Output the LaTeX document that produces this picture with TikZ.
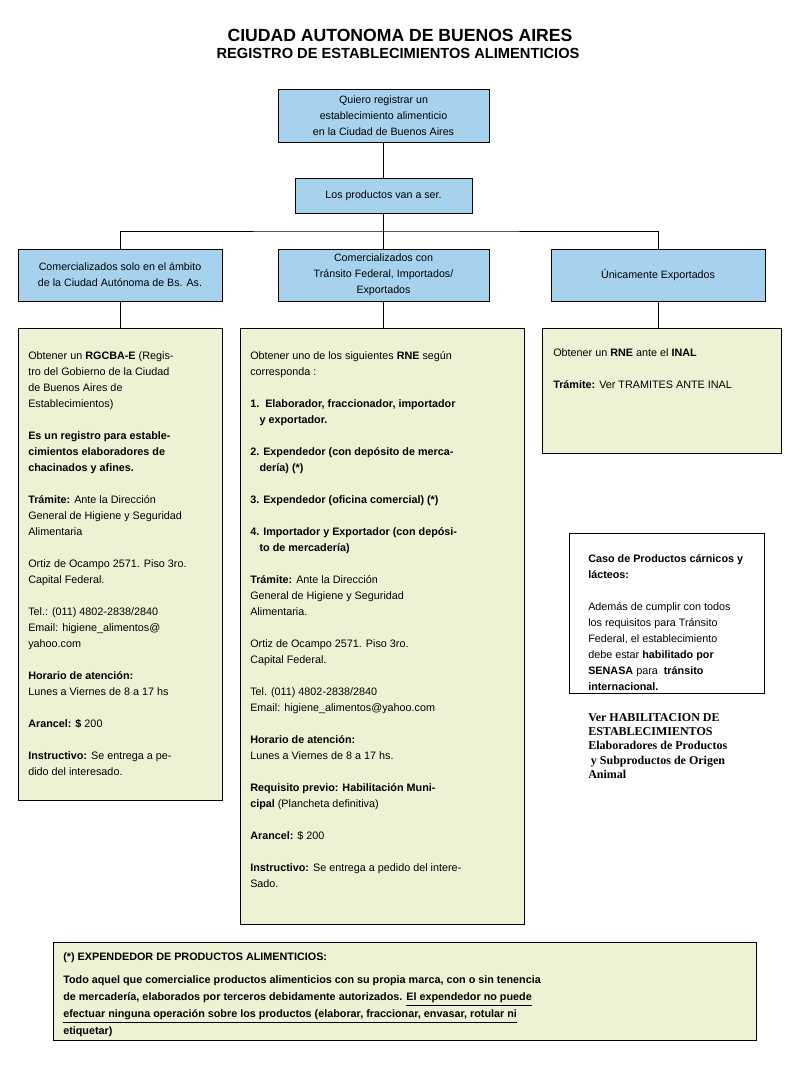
\documentclass[tikz,border=0pt]{standalone}
\usepackage{fontspec}
\setmainfont{Liberation Sans}
\newfontfamily\timesfont{Liberation Serif}
\usetikzlibrary{positioning}

\definecolor{boxblue}{HTML}{A6D2EE}
\definecolor{boxcream}{HTML}{EEF2D4}

\tikzset{
  bluebox/.style={draw, fill=boxblue, align=center, inner sep=0pt,
    font=\fontsize{8}{12}\selectfont},
  creambox/.style={draw, fill=boxcream, inner sep=0pt},
  infotext/.style={anchor=north west, align=left, inner sep=0pt,
    font=\fontsize{8.1}{12}\selectfont},
}

\begin{document}
\begin{tikzpicture}[x=0.75pt,y=-0.75pt]
\useasboundingbox (0,0) rectangle (800,1066);
\fill[white] (0,0) rectangle (800,1066);

% titulo
\node[font=\bfseries\fontsize{13.2}{15}\selectfont] (titulo) at (400,35) {CIUDAD AUTONOMA DE BUENOS AIRES};
\node[font=\bfseries\fontsize{11}{13}\selectfont] (subtitulo) at (398,53) {REGISTRO DE ESTABLECIMIENTOS ALIMENTICIOS};

% cajas azules
\node[bluebox, minimum width=158.25pt, minimum height=39.75pt] (quiero) at (383.5,115.5)
  {Quiero registrar un\\establecimiento alimenticio\\en la Ciudad de Buenos Aires};
\node[bluebox, minimum width=132.75pt, minimum height=26.25pt] (productos) at (383.5,195.5)
  {Los productos van a ser.};

\node[bluebox, minimum width=153pt, minimum height=39pt] (local) at (120,275)
  {Comercializados solo en el ámbito\\de la Ciudad Autónoma de Bs. As.};
\node[bluebox, minimum width=158.25pt, minimum height=39pt] (federal) at (383.5,275)
  {Comercializados con\\Tránsito Federal, Importados/\\Exportados};
\node[bluebox, minimum width=160.5pt, minimum height=39pt] (export) at (658,275)
  {Únicamente Exportados};

\coordinate (rama) at (383.5,231);

% cajas de detalle
\node[creambox, minimum width=153pt, minimum height=354pt] (localinfo) at (120,564) {};
\node[creambox, minimum width=213pt, minimum height=447pt] (federalinfo) at (382,626) {};
\node[creambox, minimum width=179.25pt, minimum height=93.75pt] (exportinfo) at (661.5,390.5) {};
\node[draw, fill=white, minimum width=146.25pt, minimum height=120pt] (caso) at (666.5,613) {};
\node[creambox, minimum width=527.25pt, minimum height=73.5pt] (nota) at (404.5,991) {};

% conectores
\draw (quiero) -- (productos);
\draw (productos) -- (federal);
\draw (local) |- (rama) -| (export);
\draw (local) -- (localinfo);
\draw (federal.south) -- (federal.south |- federalinfo.north);
\draw (export.south) -- (export.south |- exportinfo.north);

% textos
\node[infotext] (localtxt) at (28,351) {Obtener un \textbf{RGCBA-E} (Regis-\\
tro del Gobierno de la Ciudad\\
de Buenos Aires de\\
Establecimientos)\\[12pt]
\textbf{Es un registro para estable-}\\
\textbf{cimientos elaboradores de}\\
\textbf{chacinados y afines.}\\[12pt]
\textbf{Trámite:} Ante la Dirección\\
General de Higiene y Seguridad\\
Alimentaria\\[12pt]
Ortiz de Ocampo 2571. Piso 3ro.\\
Capital Federal.\\[12pt]
Tel.: (011) 4802-2838/2840\\
Email: higiene\_alimentos@\\
yahoo.com\\[12pt]
\textbf{Horario de atención:}\\
Lunes a Viernes de 8 a 17 hs\\[12pt]
\textbf{Arancel: \$} 200\\[12pt]
\textbf{Instructivo:} Se entrega a pe-\\
dido del interesado.};

\node[infotext] (federaltxt) at (250,351) {Obtener uno de los siguientes \textbf{RNE} según\\
corresponda :\\[12pt]
\textbf{1.\ \ Elaborador, fraccionador, importador}\\
\hspace*{7pt}\textbf{y exportador.}\\[12pt]
\textbf{2. Expendedor (con depósito de merca-}\\
\hspace*{7pt}\textbf{dería) (*)}\\[12pt]
\textbf{3. Expendedor (oficina comercial) (*)}\\[12pt]
\textbf{4. Importador y Exportador (con depósi-}\\
\hspace*{7pt}\textbf{to de mercadería)}\\[12pt]
\textbf{Trámite:} Ante la Dirección\\
General de Higiene y Seguridad\\
Alimentaria.\\[12pt]
Ortiz de Ocampo 2571. Piso 3ro.\\
Capital Federal.\\[12pt]
Tel. (011) 4802-2838/2840\\
Email: higiene\_alimentos@yahoo.com\\[12pt]
\textbf{Horario de atención:}\\
Lunes a Viernes de 8 a 17 hs.\\[12pt]
\textbf{Requisito previo: Habilitación Muni-}\\
\textbf{cipal} (Plancheta definitiva)\\[12pt]
\textbf{Arancel:} \$ 200\\[12pt]
\textbf{Instructivo:} Se entrega a pedido del intere-\\
Sado.};

\node[infotext] (exporttxt) at (553,348) {Obtener un \textbf{RNE} ante el \textbf{INAL}\\[12pt]
\textbf{Trámite:} Ver TRAMITES ANTE INAL};

\node[infotext] (casotxt) at (588,554) {\textbf{Caso de Productos cárnicos y}\\
\textbf{lácteos:}\\[12pt]
Además de cumplir con todos\\
los requisitos para Tránsito\\
Federal, el establecimiento\\
debe estar \textbf{habilitado por}\\
\textbf{SENASA} para\ \ \textbf{tránsito}\\
\textbf{internacional.}};

\node[anchor=north west, align=left, inner sep=0pt,
  font=\timesfont\bfseries\fontsize{9}{10.7}\selectfont] (verhab) at (588,713)
  {Ver HABILITACION DE\\
ESTABLECIMIENTOS\\
Elaboradores de Productos\\
\hspace*{2pt}y Subproductos de Origen\\
Animal};

\node[infotext, font=\bfseries\fontsize{8.1}{12.75}\selectfont] (notatxt) at (63,952)
  {(*) EXPENDEDOR DE PRODUCTOS ALIMENTICIOS:\\[5pt]
Todo aquel que comercialice productos alimenticios con su propia marca, con o sin tenencia\\
de mercadería, elaborados por terceros debidamente autorizados. \underline{El expendedor no puede}\\
\underline{efectuar ninguna operación sobre los productos (elaborar, fraccionar, envasar, rotular ni}\\
etiquetar)};

\end{tikzpicture}
\end{document}
